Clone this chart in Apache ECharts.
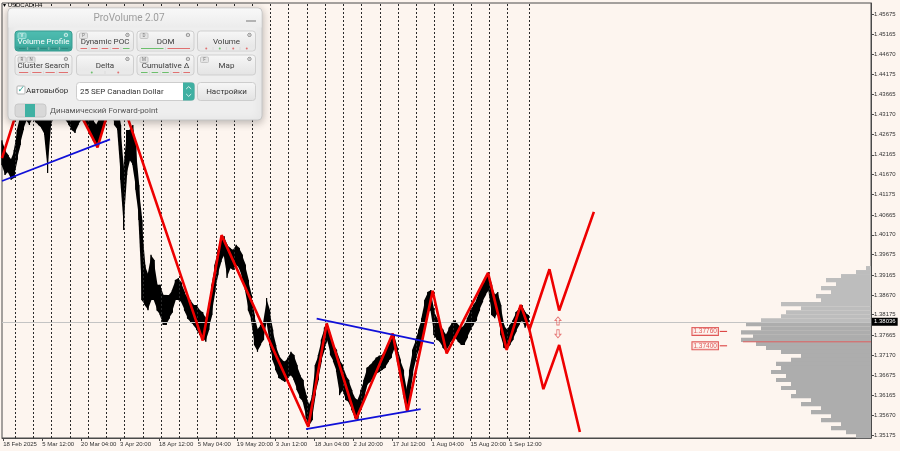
<!DOCTYPE html>
<html><head><meta charset="utf-8">
<script src="https://cdn.jsdelivr.net/npm/echarts@6/dist/echarts.min.js"></script>
<style>html,body{margin:0;padding:0;background:#fdf5ef}#c{width:900px;height:451px}</style>
</head><body><div id="c"></div>
<script>
// ---------- DATA ----------
const BAR_STEP = 5; // H4 bars between price samples
const priceHigh = [1.4253,1.4228,1.4216,1.4204,1.4228,1.4278,1.4316,1.4341,1.4366,1.4353,
1.4366,1.4353,1.4341,1.4328,1.4328,1.4316,1.4353,1.4366,1.4378,1.4373,
1.4366,1.4353,1.4341,1.4328,1.4316,1.4341,1.4353,1.4341,1.4328,1.4316,
1.4303,1.4291,1.4308,1.4328,1.4353,1.4366,1.4378,1.4353,1.4341,1.4291,
1.4179,1.4278,1.4278,1.4291,1.4241,1.4141,1.4054,1.3942,1.3917,1.3967,
1.3954,1.3892,1.3892,1.3867,1.3867,1.3867,1.3879,1.3904,1.3909,1.3897,
1.3874,1.3859,1.3854,1.3842,1.3842,1.3829,1.3824,1.3809,1.3842,1.3892,
1.3942,1.3979,1.4004,1.4014,1.3992,1.3984,1.3979,1.3992,1.3984,1.3967,
1.3942,1.3904,1.3867,1.3817,1.3780,1.3792,1.3799,1.3859,1.3829,1.3780,
1.3742,1.3717,1.3705,1.3700,1.3710,1.3725,1.3717,1.3692,1.3667,1.3655,
1.3617,1.3592,1.3617,1.3692,1.3717,1.3755,1.3785,1.3799,1.3767,1.3742,
1.3730,1.3705,1.3692,1.3667,1.3655,1.3630,1.3610,1.3605,1.3630,1.3655,
1.3685,1.3692,1.3700,1.3710,1.3715,1.3717,1.3730,1.3742,1.3755,1.3767,
1.3735,1.3705,1.3680,1.3630,1.3680,1.3730,1.3755,1.3780,1.3809,1.3854,
1.3874,1.3879,1.3829,1.3809,1.3792,1.3780,1.3767,1.3785,1.3799,1.3804,
1.3792,1.3785,1.3792,1.3809,1.3829,1.3842,1.3854,1.3879,1.3892,1.3904,
1.3924,1.3892,1.3867,1.3874,1.3842,1.3792,1.3780,1.3792,1.3804,1.3824,
1.3834,1.3842,1.3824,1.3817];
const priceLow = [1.4191,1.4166,1.4174,1.4154,1.4159,1.4204,1.4241,1.4278,1.4303,1.4291,
1.4308,1.4298,1.4291,1.4283,1.4266,1.4171,1.4291,1.4308,1.4323,1.4316,
1.4308,1.4303,1.4291,1.4278,1.4271,1.4291,1.4303,1.4298,1.4283,1.4266,
1.4253,1.4241,1.4253,1.4273,1.4303,1.4316,1.4328,1.4291,1.4278,1.4154,
1.4029,1.4166,1.4204,1.4191,1.4129,1.4054,1.3854,1.3842,1.3829,1.3854,
1.3854,1.3829,1.3817,1.3792,1.3792,1.3809,1.3824,1.3854,1.3854,1.3849,
1.3829,1.3809,1.3799,1.3792,1.3780,1.3767,1.3760,1.3750,1.3780,1.3817,
1.3874,1.3917,1.3949,1.3967,1.3909,1.3934,1.3929,1.3942,1.3934,1.3909,
1.3879,1.3829,1.3804,1.3742,1.3725,1.3742,1.3755,1.3804,1.3742,1.3705,
1.3680,1.3660,1.3655,1.3650,1.3660,1.3667,1.3655,1.3630,1.3610,1.3600,
1.3560,1.3540,1.3555,1.3617,1.3655,1.3700,1.3730,1.3755,1.3717,1.3700,
1.3675,1.3617,1.3630,1.3605,1.3600,1.3580,1.3560,1.3555,1.3585,1.3605,
1.3642,1.3650,1.3660,1.3670,1.3675,1.3680,1.3685,1.3700,1.3710,1.3735,
1.3700,1.3660,1.3617,1.3575,1.3605,1.3667,1.3705,1.3730,1.3750,1.3792,
1.3824,1.3829,1.3767,1.3755,1.3750,1.3735,1.3725,1.3742,1.3755,1.3760,
1.3750,1.3742,1.3742,1.3760,1.3780,1.3792,1.3804,1.3829,1.3849,1.3867,
1.3879,1.3817,1.3809,1.3824,1.3767,1.3735,1.3730,1.3742,1.3755,1.3775,
1.3792,1.3804,1.3785,1.3798];

const dateLabels = ['18 Feb 2025','5 Mar 12:00','20 Mar 04:00','3 Apr 20:00','18 Apr 12:00','5 May 04:00',
  '19 May 20:00','3 Jun 12:00','18 Jun 04:00','2 Jul 20:00','17 Jul 12:00','1 Aug 04:00','15 Aug 20:00','1 Sep 12:00'];
const dateTickBars = [2,66,130,194,258,322,386,450,514,578,642,706,770,834];
const priceTicks = [1.45675,1.45165,1.44670,1.44175,1.43665,1.43170,1.42675,1.42165,1.41670,1.41175,1.40665,
  1.40170,1.39675,1.39165,1.38670,1.38175,1.37665,1.37170,1.36675,1.36165,1.35670,1.35175];
const weekSeparatorBars = [21.4,51.4,81.4,111.4,141.4,171.4,201.4,231.4,261.4,291.4,321.4,351.4,381.4,411.4,
  441.4,471.4,501.4,531.4,561.4,591.4,621.4,651.4,681.4,711.4,741.4,771.4,801.4,831.4,867];
const currentPrice = 1.38036;

// ZigZag (red)
const zzBars   = [0,33,117,157,181,194,330,361,503.5,533.8,582,642.3,666.3,708,731,799,829.7,852.7,867];
const zzPrices = [1.4208,1.4366,1.4353,1.4235,1.4358,1.4366,1.3753,1.4016,1.3538,1.3796,1.3557,1.3771,1.3576,1.3877,1.3721,1.3922,1.3730,1.3842,1.3780];
const fcUpBars = [867,900,916,973];
const fcUpPrices = [1.3780,1.3931,1.3828,1.4074];
const fcDnBars = [867,890,916,950];
const fcDnPrices = [1.3780,1.3632,1.3742,1.3525];
// Trend lines (blue)
const blue1Bars = [0,177.6], blue1Prices = [1.4151,1.4255];
const blue2Bars = [517.3,710.2], blue2Prices = [1.3808,1.3746];
const blue3Bars = [499.8,688.3], blue3Prices = [1.3532,1.3582];

// Levels
const levelPrices = [1.37760, 1.37400];
const levelBar = 1156;
const arrowBar = 914;
const arrowUpPrice = 1.3802, arrowDnPrice = 1.3770;
const pocPrice = 1.3750, pocStartBar = 1218;

// Volume profile
const VOL_STEP = 0.000998;
const volPrices = [1.3934,1.3924,1.3914,1.3904,1.3894,1.3884,1.3874,1.3864,1.3854,1.3844,1.3834,1.3824,
  1.3814,1.3804,1.3794,1.3784,1.3774,1.3764,1.3755,1.3745,1.3735,1.3725,1.3715,1.3705,1.3695,1.3685,
  1.3675,1.3665,1.3655,1.3645,1.3635,1.3625,1.3615,1.3605,1.3595,1.3585,1.3575,1.3565,1.3555,1.3545,
  1.3535,1.3525,1.3515];
const volValues = [5,15,30,45,35,50,40,55,50,90,70,85,90,110,125,110,130,118,130,115,105,90,70,80,95,90,
  100,85,95,80,90,75,80,60,70,50,60,40,50,30,40,25,15];

// ---------- CHART ----------
const X_MAX = 1428.6;
const chart = echarts.init(document.getElementById('c'), null, {renderer:'canvas'});

const G = [];
function rect(x,y,w,h,fill,stroke,r,extra){ G.push({type:'rect', z:100, shape:{x,y,width:w,height:h,r:r||0}, style:Object.assign({fill:fill, stroke:stroke||null, lineWidth:stroke?1:0}, extra||{})}); }
function text(x,y,t,size,color,align,font,weight){ G.push({type:'text', z:101, x, y, style:{text:t, fontSize:size, fill:color, align:align||'left', verticalAlign:'middle', fontFamily:font||'Roboto', fontWeight:weight||'normal'}}); }
function line(x1,y1,x2,y2,color,w){ G.push({type:'line', z:101, shape:{x1,y1,x2,y2}, style:{stroke:color, lineWidth:w||1}}); }
function poly(pts,color,w){ G.push({type:'polyline', z:101, shape:{points:pts}, style:{stroke:color, lineWidth:w||1, fill:null}}); }
const grad = (a,b)=>({type:'linear',x:0,y:0,x2:0,y2:1,colorStops:[{offset:0,color:a},{offset:1,color:b}]});

// symbol header
text(3,5,'▾ USDCAD,H4',6,'#000','left','Liberation Sans');

// panel
rect(8,8,254,112,'#eeeeee','#c6c6c6',4,{shadowBlur:8,shadowColor:'rgba(0,0,0,0.28)',shadowOffsetY:2});
rect(8.5,8.5,253,19,grad('#f8f8f8','#ececec'),null,[4,4,0,0]);
text(129,18.5,'ProVolume 2.07',10,'#9d9d9d','center');
line(246,21,256,21,'#8a8a8a',1.2);

const buttons = [
 {x:15,y:31,w:57,label:'Volume Profile',active:true,tags:['V'],mt:'dash',mc:['#2c8c81','#2c8c81','#2c8c81','#2c8c81','#2c8c81']},
 {x:76.5,y:31,w:57,label:'Dynamic POC',tags:['P'],mt:'dash',mc:['#e07070','#e07070','#e07070','#e07070','#6cbf6c']},
 {x:137,y:31,w:57,label:'DOM',tags:['D'],mt:'dash',mc:['#6cbf6c','#e07070']},
 {x:197.5,y:31,w:58,label:'Volume',tags:[],mt:'dot',mc:['#e07070','#6cbf6c','#e07070','#e07070']},
 {x:15,y:55,w:57,label:'Cluster Search',tags:['R','N'],mt:'dash',mc:['#e07070','#e07070','#e07070','#e07070']},
 {x:76.5,y:55,w:57,label:'Delta',tags:[],mt:'dot',mc:['#6cbf6c','#e07070']},
 {x:137,y:55,w:57,label:'Cumulative Δ',tags:['M'],mt:'dash',mc:['#6cbf6c','#6cbf6c','#6cbf6c','#e07070','#e07070']},
 {x:197.5,y:55,w:58,label:'Map',tags:['F'],mt:null,mc:[]}
];
buttons.forEach(b=>{
  const h = 20;
  rect(b.x,b.y,b.w,h,b.active?grad('#4fbdb1','#3aa89c'):grad('#f7f7f7','#e3e3e3'),b.active?'#379c91':'#cfcfcf',3);
  b.tags.forEach((t,k)=>{
    rect(b.x+3+9*k,b.y+2,8,5.5,b.active?'#6cc9bf':'#e4e4e4',b.active?'#9fe0d8':'#c6c6c6',1);
    text(b.x+7+9*k,b.y+5,t,4.5,b.active?'#fff':'#777','center');
  });
  text(b.x+b.w-6,b.y+4.5,'⚙',6,b.active?'#e8f8f6':'#7a7a7a','center','DejaVu Sans');
  text(b.x+b.w/2,b.y+11,b.label,8,b.active?'#ffffff':'#3c3c3c','center');
  if (b.mt) {
    rect(b.x+1,b.y+15.5,b.w-2,4,b.active?'#3a9f94':'#e9e9e9',null,[0,0,2,2]);
    const n = b.mc.length, sw = (b.w-4)/n;
    b.mc.forEach((c,k)=>{
      const cx = b.x+2+sw*k+sw/2;
      if (b.mt==='dash') line(cx-sw/2+2,b.y+17.5,cx+sw/2-2,b.y+17.5,c,1);
      else G.push({type:'circle',z:101,shape:{cx:cx,cy:b.y+17.5,r:1},style:{fill:c}});
      if (k>0) line(b.x+2+sw*k,b.y+16,b.x+2+sw*k,b.y+19,'#cfcfcf',0.5);
    });
  }
});
// row 3
rect(17,86,8,8,'#ffffff','#b3b3b3',1);
text(17.5,89.5,'✓',9,'#37a99b','left','DejaVu Sans');
text(26,91,'Автовыбор',8,'#333');
rect(76.5,82.5,118,18,'#ffffff','#cdcdcd',3);
text(80,91.5,'25 SEP Canadian Dollar',8,'#333');
rect(183,82.5,11.5,18,'#3fb0a2',null,[0,3,3,0]);
poly([[186.2,89],[188.7,86.6],[191.2,89]],'#ffffff',0.8);
poly([[186.2,94],[188.7,96.4],[191.2,94]],'#ffffff',0.8);
rect(197.5,82.5,58,18,grad('#f7f7f7','#e2e2e2'),'#cdcdcd',3);
text(226.5,91.5,'Настройки',8,'#333','center');
// row 4
rect(15,104,31,13,'#d8d8d8','#c8c8c8',3);
rect(25,104,10,13,'#40b1a3');
text(50,110.5,'Динамический Forward-point',8,'#555');

const pairs = (xs,ys)=>xs.map((x,i)=>[x,ys[i]]);
const redLine = (name,data)=>({name,type:'line',data,symbol:'none',z:5,lineStyle:{color:'#ee0000',width:2.6},silent:true,animation:false});
const blueLine = (data)=>({type:'line',data,symbol:'none',z:5,lineStyle:{color:'#1010d8',width:1.8},silent:true});
const ARROW_UP = 'path://M5,0 L10,5 L7,5 L7,11 L3,11 L3,5 L0,5 Z';

const option = {
  backgroundColor:'#fdf5ef',
  animation:false,
  grid:{left:2,top:3,width:869,height:435,show:true,borderColor:'#4a4a4a',borderWidth:1,containLabel:false,outerBoundsMode:'none'},
  xAxis:[{
    type:'value',min:0,max:X_MAX,
    axisLine:{show:true,onZero:false,lineStyle:{color:'#4a4a4a',width:1}},
    axisTick:{show:true,customValues:dateTickBars,length:3,lineStyle:{color:'#4a4a4a'}},
    axisLabel:{show:true,customValues:dateTickBars,formatter:v=>dateLabels[dateTickBars.indexOf(v)],align:'left',
      fontSize:6,color:'#333',margin:3,fontFamily:'Liberation Sans'},
    splitLine:{show:false}
  },{
    type:'value',min:0,max:869,inverse:true,show:false,gridIndex:0
  }],
  yAxis:{
    type:'value',position:'right',min:1.35101,max:1.45950,
    axisLine:{show:true,onZero:false,lineStyle:{color:'#4a4a4a',width:1}},
    axisTick:{show:true,customValues:priceTicks,length:3,lineStyle:{color:'#4a4a4a'}},
    axisLabel:{show:true,customValues:priceTicks,formatter:v=>v.toFixed(5),fontSize:6,color:'#333',margin:3,fontFamily:'Liberation Sans'},
    splitLine:{show:false}
  },
  graphic:{elements:G},
  series:[
    {
      type:'custom',xAxisIndex:1,yAxisIndex:0,z:1,silent:true,
      data:volPrices.map((p,i)=>[volValues[i],p]),
      renderItem:(params,api)=>{
        const v=api.value(0), p=api.value(1);
        const a=api.coord([0,p]), b=api.coord([v,p]);
        const h=api.size([0,VOL_STEP])[1];
        return {type:'rect',shape:{x:b[0],y:a[1]-h/2,width:a[0]-b[0],height:h+0.2},
          style:{fill:p>currentPrice?'#bdbdbd':'#adadad'}};
      }
    },
    {
      type:'line',xAxisIndex:0,z:2,symbol:'none',silent:true,
      data:[[pocStartBar,pocPrice],[X_MAX,pocPrice]],
      lineStyle:{color:'#e06060',width:1},
      markLine:{
        silent:true,symbol:['none','none'],animation:false,
        label:{show:false},
        data:[
          ...weekSeparatorBars.map(v=>({xAxis:v,lineStyle:{color:'#2a2a2a',type:[2,2],width:1}})),
          {yAxis:currentPrice,lineStyle:{color:'#c4c4c4',type:'solid',width:1},
           label:{show:true,position:'end',formatter:currentPrice.toFixed(5),backgroundColor:'#000',color:'#fff',
             fontSize:6,padding:[1,2],distance:1,fontFamily:'Liberation Sans'}}
        ]
      }
    },
    {
      type:'custom',xAxisIndex:0,yAxisIndex:0,z:3,silent:true,
      data:priceHigh.map((h,i)=>[i*BAR_STEP,priceLow[i],h]),
      renderItem:(params,api)=>{
        const i=params.dataIndex;
        const x=api.value(0);
        const j=Math.min(i+1,priceHigh.length-1);
        const x2=j*BAR_STEP;
        const h1=api.coord([x,priceHigh[i]]), l1=api.coord([x,priceLow[i]]);
        const h2=api.coord([x2,priceHigh[j]]), l2=api.coord([x2,priceLow[j]]);
        const pts = j===i ? [[h1[0]-0.8,h1[1]],[h1[0]+0.8,h1[1]],[l1[0]+0.8,l1[1]],[l1[0]-0.8,l1[1]]]
                          : [[h1[0]-0.4,h1[1]],[h2[0]+0.4,h2[1]],[l2[0]+0.4,l2[1]],[l1[0]-0.4,l1[1]]];
        return {type:'group',children:[
          {type:'polygon',shape:{points:pts},style:{fill:'#000'}},
          {type:'line',shape:{x1:h1[0],y1:h1[1],x2:l1[0],y2:l1[1]},style:{stroke:'#000',lineWidth:1.2}}
        ]};
      }
    },
    redLine('zz',pairs(zzBars,zzPrices)),
    redLine('up',pairs(fcUpBars,fcUpPrices)),
    redLine('dn',pairs(fcDnBars,fcDnPrices)),
    blueLine(pairs(blue1Bars,blue1Prices)),
    blueLine(pairs(blue2Bars,blue2Prices)),
    blueLine(pairs(blue3Bars,blue3Prices)),
    {
      type:'scatter',z:6,silent:true,symbolSize:1,itemStyle:{color:'rgba(0,0,0,0)'},
      data:levelPrices.map(p=>[levelBar,p]),
      label:{show:true,position:'inside',formatter:p=>p.value[1].toFixed(5),color:'#d83030',fontSize:6.5,
        borderColor:'#d83030',borderWidth:1,padding:[0,1],backgroundColor:'#fdf2ee',fontFamily:'Liberation Sans'}
    },
    ...levelPrices.map(p=>({type:'line',z:6,symbol:'none',silent:true,data:[[levelBar+24,p],[levelBar+36,p]],lineStyle:{color:'#d83030',width:1}})),
    {
      type:'scatter',z:6,silent:true,symbol:ARROW_UP,symbolSize:[6,8],
      itemStyle:{color:'rgba(255,255,255,0)',borderColor:'#e05a5a',borderWidth:0.9},
      data:[{value:[arrowBar,arrowUpPrice]},{value:[arrowBar,arrowDnPrice],symbolRotate:180}]
    }
  ]
};
chart.setOption(option);
</script></body></html>
